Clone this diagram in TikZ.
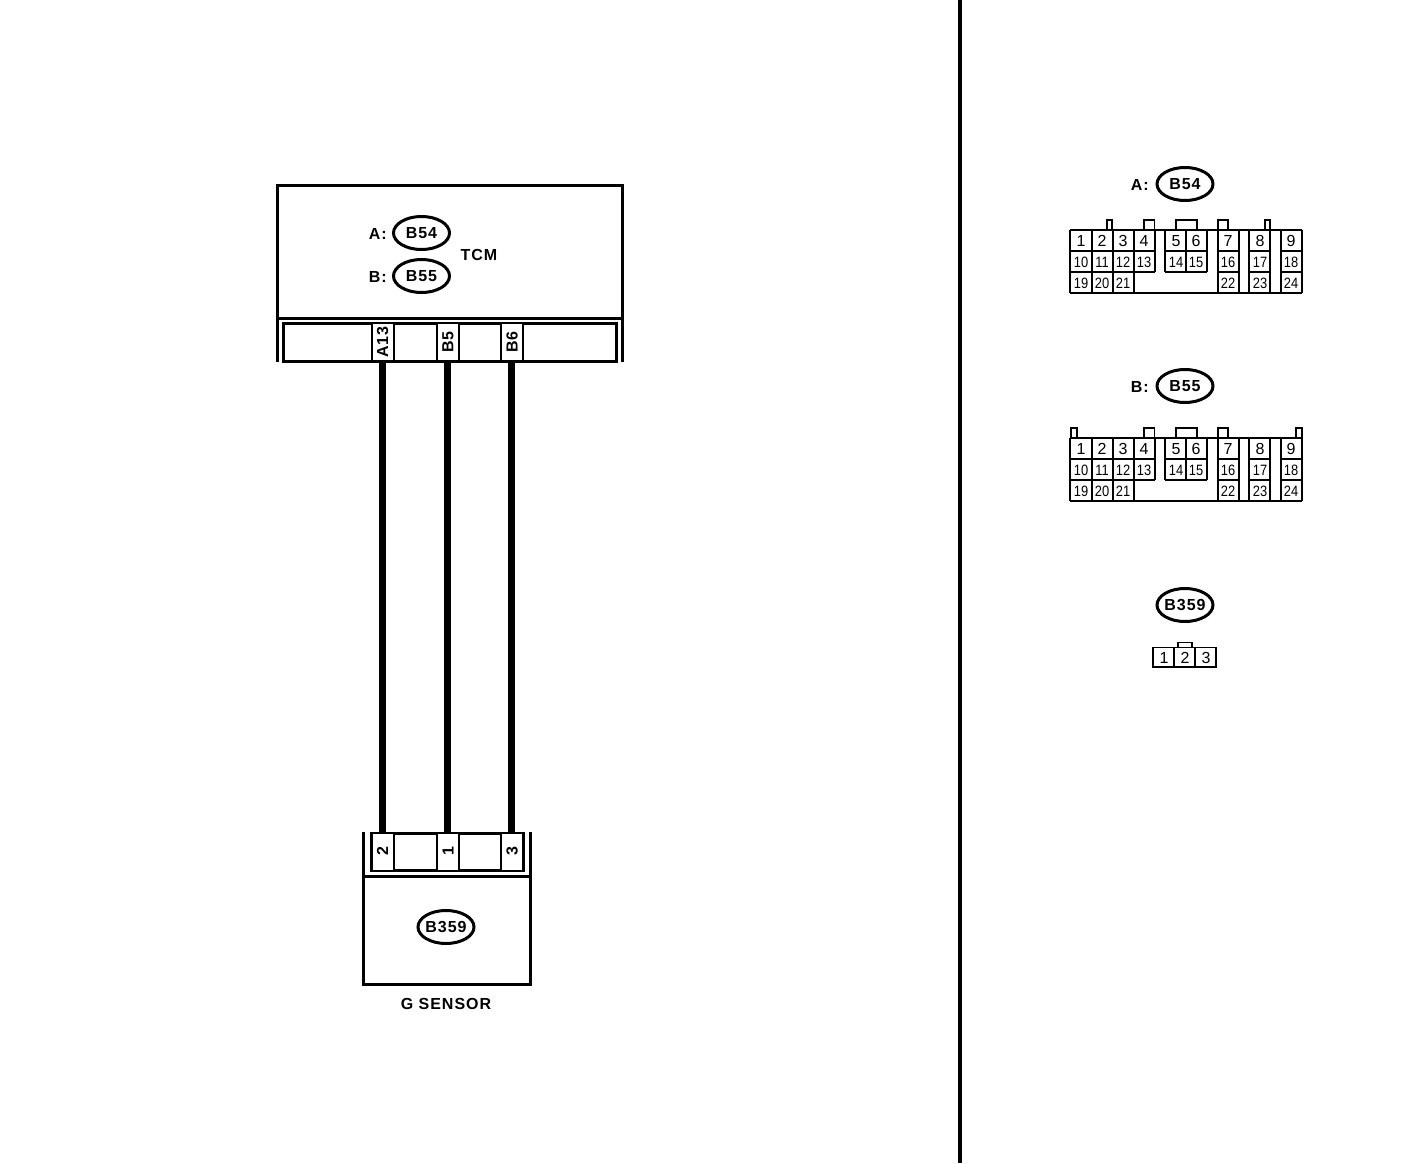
\documentclass[tikz,border=0pt]{standalone}
\usepackage{fontspec}
\setmainfont{Liberation Sans}
\newfontfamily\spaced[LetterSpace=6]{Liberation Sans}
\newfontfamily\narrowd[FakeStretch=0.86]{Liberation Sans}
\usetikzlibrary{shapes.geometric}
\tikzset{
  lbl/.style={font=\fontsize{16}{16}\selectfont\spaced\bfseries,inner sep=0pt},
  oval/.style={draw,ellipse,line width=3pt,minimum width=56pt,minimum height=33pt,inner sep=0pt,font=\fontsize{16}{16}\selectfont\spaced\bfseries},
  ovalwide/.style={oval,inner xsep=-2.5pt,inner ysep=-2pt},
  frame/.style={line width=3pt},
  wire/.style={line width=7pt},
  pinbox/.style={draw,line width=2pt,inner sep=0pt,minimum width=22pt,minimum height=38pt},
  pinlbl/.style={font=\fontsize{16}{16}\selectfont\spaced\bfseries,rotate=90,inner sep=0pt},
  thin/.style={line width=1.4pt},
  num/.style={font=\fontsize{16}{16}\selectfont,inner sep=0pt},
  dnum/.style={font=\fontsize{15}{15}\selectfont\narrowd,inner sep=0pt}
}
\newcommand{\cavity}[2]{%
  \pgfmathsetmacro{\ya}{#2}\pgfmathsetmacro{\yb}{#2+21}\pgfmathsetmacro{\yc}{#2+42}\pgfmathsetmacro{\yd}{#2+63}
  \draw[thin] (1070,\ya) -- (1302,\ya);
  \draw[thin] (1070,\yd) -- (1302,\yd);
  \foreach \xx in {1070,1092,1113,1134,1218,1239,1249,1270,1281,1302}
    \draw[thin] (\xx,\ya) -- (\xx,\yd);
  \foreach \xx in {1155,1165,1186,1207}
    \draw[thin] (\xx,\ya) -- (\xx,\yc);
  \foreach \l/\r in {1070/1155,1165/1207,1218/1239,1249/1270,1281/1302}{
    \draw[thin] (\l,\yb) -- (\r,\yb);
    \draw[thin] (\l,\yc) -- (\r,\yc);
  }
  \foreach \xx/\t in {1081/1,1102/2,1123/3,1144/4,1176/5,1196/6,1228/7,1260/8,1291/9}
    \node[num] (#1n\t) at (\xx,\ya+11) {\t};
  \foreach \xx/\t in {1081/10,1102/11,1123/12,1144/13,1176/14,1196/15,1228/16,1260/17,1291/18}
    \node[dnum] (#1n\t) at (\xx,\yb+11) {\t};
  \foreach \xx/\t in {1081/19,1102/20,1123/21,1228/22,1260/23,1291/24}
    \node[dnum] (#1n\t) at (\xx,\yc+11) {\t};
}
\newcommand{\ctab}[3]{\draw[thin] (#1,#3) -- (#1,#3-10) -- (#2,#3-10) -- (#2,#3);}
\begin{document}
\begin{tikzpicture}[x=1pt,y=-1pt]
\useasboundingbox (0,0) rectangle (1408,1164);
% divider
\draw[line width=4pt] (960,0) -- (960,1163);
% wires
\coordinate (wa) at (382,361);
\coordinate (wb) at (447,361);
\coordinate (wc) at (511.5,361);
\coordinate (wd) at (382,833);
\coordinate (we) at (447,833);
\coordinate (wf) at (511.5,833);
\draw[wire] (wa) -- (wd);
\draw[wire] (wb) -- (we);
\draw[wire] (wc) -- (wf);
% TCM box
\draw[frame] (277.5,362) -- (277.5,185.5) -- (622,185.5) -- (622,362);
\draw[frame] (277.5,318) -- (622,318);
\draw[frame] (283.5,323.5) rectangle (616.5,361);
\node[pinbox,fill=white] (pa13) at (382.5,342) {};
\node[pinbox,fill=white] (pb5) at (448,342) {};
\node[pinbox,fill=white] (pb6) at (512,342) {};
\node[pinlbl] at (pa13) {A13};
\node[pinlbl] at (pb5) {B5};
\node[pinlbl] at (pb6) {B6};
\node[oval] (ob54) at (421.5,233) {B54};
\node[oval] (ob55) at (421.5,276) {B55};
\node[lbl,anchor=east] (ta) at (387,233.5) {A:};
\node[lbl,anchor=east] (tb) at (387,276.5) {B:};
\node[lbl] (tcm) at (479,254.5) {TCM};
% G sensor
\draw[frame] (363.5,832) -- (363.5,984) -- (530.5,984) -- (530.5,832);
\draw[frame] (363.5,876.5) -- (530.5,876.5);
\draw[frame] (371.5,833) rectangle (523,870.5);
\node[pinbox,fill=white] (g2) at (382.5,851.5) {};
\node[pinbox,fill=white] (g1) at (448,851.5) {};
\node[pinbox,fill=white] (g3) at (512,851.5) {};
\node[pinlbl] at (g2) {2};
\node[pinlbl] at (g1) {1};
\node[pinlbl] at (g3) {3};
\node[ovalwide] (ob359) at (446,927) {B359};
\node[lbl] (gs) at (446,1003.5) {G SENSOR};
% right: A
\node[lbl,anchor=east] (ra) at (1149,184.5) {A:};
\node[oval] (rb54) at (1185,184) {B54};
\cavity{a}{230}
\ctab{1107}{1112}{230}\ctab{1144}{1154.5}{230}\ctab{1176}{1197}{230}\ctab{1218}{1228}{230}\ctab{1265}{1270}{230}
% right: B
\node[lbl,anchor=east] (rb) at (1149,386.5) {B:};
\node[oval] (rb55) at (1185,386) {B55};
\cavity{b}{438}
\ctab{1071}{1077}{438}\ctab{1144}{1154.5}{438}\ctab{1176}{1197}{438}\ctab{1218}{1228}{438}\ctab{1296}{1302}{438}
% right: B359
\node[ovalwide] (rb359) at (1185,605) {B359};
\draw[thin] (1153,647.5) rectangle (1216,667);
\draw[thin] (1174,647.5) -- (1174,667);
\draw[thin] (1195,647.5) -- (1195,667);
\draw[thin] (1178,647.5) -- (1178,642.5) -- (1192,642.5) -- (1192,647.5);
\node[num] (c1) at (1164,658) {1};
\node[num] (c2) at (1185,658) {2};
\node[num] (c3) at (1206,658) {3};
\end{tikzpicture}
\end{document}
